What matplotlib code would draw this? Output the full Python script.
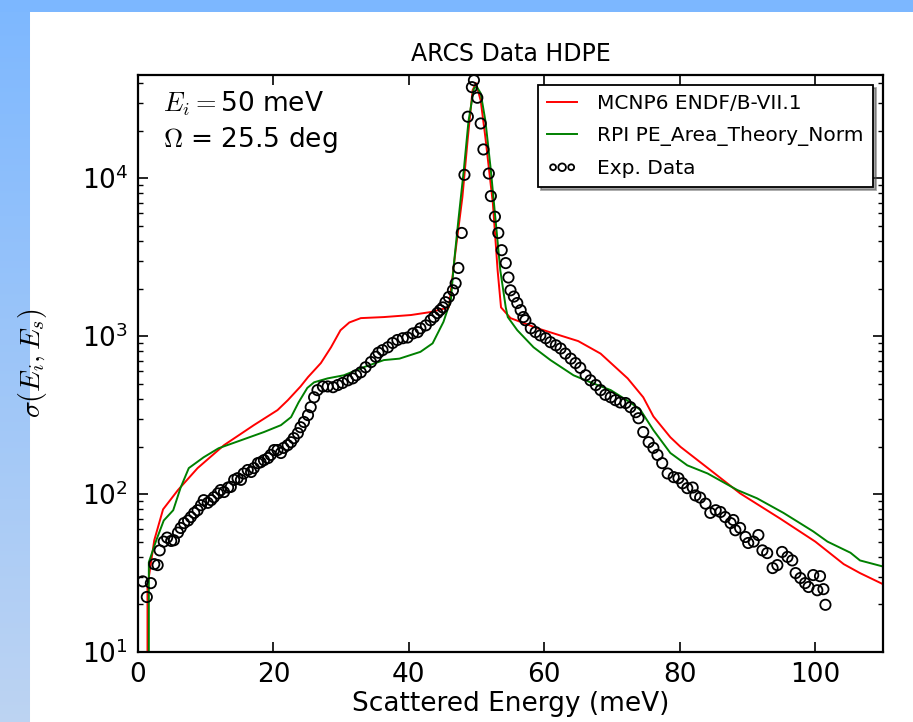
import numpy as np
import matplotlib
matplotlib.use("Agg")
import matplotlib.pyplot as plt

plt.rcParams['font.family'] = ['DejaVu Sans']
plt.rcParams['mathtext.fontset'] = 'cm'

# --- data ---
# MCNP6 ENDF/B-VII.1 (red)
mcnp_x = [1.2, 1.4, 2.4, 3.7, 5.9, 8.8, 12.7, 17.1, 20.6, 22.1,
          24.0, 25.1, 27.0, 28.5, 29.9, 31.2, 32.9, 36.3, 40.3, 43.2,
          45.9, 46.9, 47.9, 48.7, 49.4, 49.9, 50.6, 51.3, 52.4, 53.1,
          53.6, 55.0, 59.0, 65.0, 68.3, 72.3, 74.6, 76.1, 78.6, 80.1,
          84.5, 88.9, 94.8, 100.0, 104.2, 106.6, 110.3]
mcnp_y = [0, 26, 51, 80, 106, 146, 204, 273, 340, 392,
          480, 550, 675, 850, 1090, 1220, 1300, 1320, 1360, 1420,
          1520, 3500, 7600, 18000, 36000, 40000, 31000, 18000, 6900, 2600,
          1520, 1300, 1120, 930, 775, 540, 410, 310, 229, 199,
          142, 101, 70, 50, 36, 31.6, 26.5]

# RPI PE_Area_Theory_Norm (green)
rpi_x = [1.2, 1.6, 2.7, 3.8, 5.2, 6.3, 7.5, 9.7, 11.9, 15.2,
         18.6, 21.1, 22.6, 23.7, 25.0, 26.0, 28.0, 30.4, 33.3, 36.3,
         38.6, 41.7, 43.5, 45.1, 46.2, 46.6, 47.3, 48.1, 48.8, 49.6,
         50.0, 50.6, 51.3, 52.1, 52.8, 53.5, 54.3, 54.6, 56.0, 58.4,
         60.9, 64.3, 66.8, 69.8, 72.7, 74.2, 76.1, 78.6, 81.1, 84.1,
         88.5, 91.4, 95.3, 99.7, 101.8, 105.2, 106.6, 110.3]
rpi_y = [0, 37, 51, 68, 79, 110, 146, 171, 195, 219,
         247, 273, 307, 380, 470, 510, 540, 565, 635, 705,
         720, 795, 900, 1230, 1700, 2750, 5400, 11200, 23000, 37000,
         38000, 34500, 23000, 11200, 5400, 2600, 1520, 1320, 1090, 850,
         705, 565, 510, 455, 380, 340, 254, 182, 152, 135,
         106, 94, 76, 58, 50, 42.5, 38, 34.5]

# Exp. Data (open circles)
exp_x = [0.7, 1.3, 1.9, 2.4, 2.9, 3.2, 3.8, 4.3, 4.9, 5.3,
         5.9, 6.3, 6.8, 7.4, 7.8, 8.3, 8.8, 9.3, 9.7, 10.3,
         10.8, 11.2, 11.8, 12.2, 12.7, 13.3, 13.7, 14.2, 14.7, 15.2,
         15.6, 16.2, 16.7, 17.1, 17.7, 18.1, 18.6, 19.2, 19.6, 20.1,
         20.6, 21.1, 21.5, 22.1, 22.6, 23.0, 23.6, 24.0, 24.5, 25.1,
         25.5, 26.0, 26.5, 27.3, 28.0, 28.8, 29.5, 30.2, 31.0, 31.7,
         32.2, 32.9, 33.6, 34.4, 35.1, 35.5, 36.1, 36.9, 37.6, 38.3,
         39.1, 39.8, 40.6, 41.3, 41.7, 42.5, 43.2, 43.7, 44.2, 44.6,
         45.0, 45.4, 45.9, 46.5, 46.9, 47.3, 47.8, 48.2, 48.7, 49.3,
         49.6, 50.1, 50.6, 51.0, 51.8, 52.1, 52.7, 53.2, 53.7, 54.3,
         54.7, 55.0, 55.5, 56.0, 56.5, 56.9, 57.2, 58.0, 58.7, 59.4,
         60.2, 60.9, 61.7, 62.4, 63.1, 63.9, 64.6, 65.3, 66.1, 66.8,
         67.6, 68.3, 69.0, 69.8, 70.5, 71.2, 72.0, 72.7, 73.5, 73.9,
         74.6, 75.4, 76.1, 76.7, 77.4, 78.2, 79.1, 79.8, 80.4, 81.1,
         81.9, 82.3, 83.0, 83.8, 84.5, 85.3, 86.0, 86.7, 87.5, 87.9,
         88.2, 88.9, 89.7, 90.1, 90.9, 91.6, 92.2, 92.9, 93.7, 94.4,
         95.1, 95.9, 96.6, 97.1, 97.8, 98.5, 99.0, 99.7, 100.3, 100.7,
         101.2, 101.5]
exp_y = [28, 22.3, 27.3, 36, 35.5, 44, 50, 53, 50.5, 51,
         57, 61, 65.5, 68, 71.5, 76, 79, 85, 91.5, 88,
         91.5, 95.5, 101, 106, 103, 110, 111, 123, 126, 123,
         135, 142, 138, 146, 157, 159, 164, 169, 177, 190,
         190, 182, 196, 204, 213, 226, 243, 265, 286, 316,
         355, 410, 455, 480, 480, 475, 490, 505, 525, 540,
         565, 590, 635, 685, 740, 785, 815, 850, 905, 945,
         970, 980, 1040, 1060, 1120, 1170, 1260, 1320, 1400, 1460,
         1520, 1640, 1770, 1950, 2160, 2700, 4500, 10500, 24500, 37700,
         41700, 32300, 22200, 15200, 10700, 7700, 5700, 4500, 3500, 2900,
         2350, 1950, 1780, 1620, 1460, 1320, 1260, 1120, 1060, 1010,
         970, 915, 875, 835, 775, 720, 675, 630, 565, 525,
         490, 455, 425, 410, 393, 380, 377, 355, 330, 302,
         247, 213, 196, 177, 157, 135, 128, 126, 117, 109,
         110, 98, 95, 87, 76, 79, 77, 71.5, 65.5, 68.5,
         59, 61, 53.5, 49, 50, 55, 44, 42.3, 34, 35.5,
         43, 40, 38, 31.6, 29.4, 27.3, 25.8, 30.7, 24.6, 30.2,
         25, 19.9]

fig = plt.figure(figsize=(9.13, 7.22), dpi=100)

# slide background: blue strips on the left and top
bg = fig.add_axes([0, 0, 1, 1], zorder=-10)
bg.axis('off')
H, W = 722, 913
img = np.ones((H, W, 3))
t = np.linspace(0, 1, H)[:, None]
top_c = np.array([0.49, 0.72, 1.0])
bot_c = np.array([0.74, 0.83, 0.95])
img[:, :30, :] = (top_c * (1 - t) + bot_c * t)[:, None, :]
img[:12, :, :] = top_c
bg.imshow(img, aspect='auto', extent=[0, 1, 0, 1], transform=bg.transAxes)

ax = fig.add_axes([138 / 913, 1 - 652 / 722, 745 / 913, 577 / 722])
ax.plot(mcnp_x, mcnp_y, color='red', lw=1.4, label='MCNP6 ENDF/B-VII.1')
ax.plot(rpi_x, rpi_y, color='green', lw=1.4, label='RPI PE_Area_Theory_Norm')
ax.scatter(exp_x, exp_y, s=55, facecolors='none', edgecolors='black',
           linewidths=1.3, label='Exp. Data', zorder=3)

ax.set_yscale('log')
ax.set_xlim(0, 110)
ax.set_ylim(10, 4.5e4)
ax.set_xticks([0, 20, 40, 60, 80, 100])

for sp in ax.spines.values():
    sp.set_linewidth(1.6)
ax.tick_params(which='both', direction='in', top=True, right=True,
               labelsize=19, pad=7)
ax.tick_params(which='major', length=7, width=1.2)
ax.tick_params(which='minor', length=3.5, width=1)

ax.set_title('ARCS Data HDPE', fontsize=17, y=1.0225, va='center')
ax.set_xlabel('Scattered Energy (meV)', fontsize=19, va='center')
ax.xaxis.set_label_coords(0.5, -0.09)
ax.set_ylabel(r'$\sigma(E_i,E_s)$', fontsize=20, va='center')
ax.yaxis.set_label_coords(-0.141, 0.5)

ax.text(0.034, 0.936, r'$E_i =$50 meV', transform=ax.transAxes,
        fontsize=19, va='baseline')
ax.text(0.034, 0.875, r'$\Omega$ = 25.5 deg', transform=ax.transAxes,
        fontsize=19, va='baseline')

leg = ax.legend(loc='upper right', fontsize=14.5, fancybox=False, shadow=True,
                scatterpoints=3, scatteryoffsets=[0.5], borderaxespad=0.5,
                handlelength=1.5, handletextpad=1.0, labelspacing=0.65,
                borderpad=0.45, framealpha=1)
leg.get_frame().set_edgecolor('black')
leg.get_frame().set_linewidth(1.3)
leg.legend_handles[2].set_sizes([18, 30, 18])

fig.savefig('out.png', dpi=100)
